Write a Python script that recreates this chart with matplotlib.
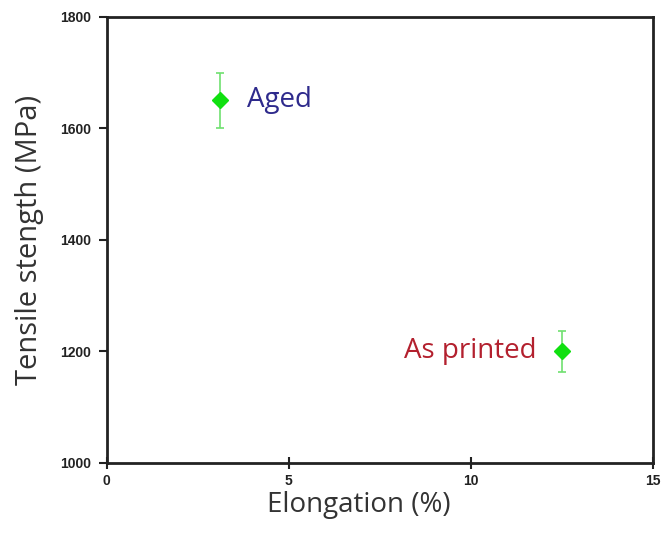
import matplotlib
matplotlib.use("Agg")
import matplotlib.pyplot as plt

# data
labels = ["Aged", "As printed"]
elongation = [3.1, 12.5]
strength = [1650, 1200]
strength_err = [50, 36]
label_colors = ["#2e2a8c", "#b3202e"]

xticks = [0, 5, 10, 15]
yticks = [1000, 1200, 1400, 1600, 1800]

fig = plt.figure(figsize=(6.63, 5.35), dpi=100)
ax = fig.add_axes([0.161, 0.1346, 0.824, 0.834])

ax.errorbar(elongation, strength, yerr=strength_err, fmt="none", ecolor="#6fe06f",
            elinewidth=1.2, capsize=3, capthick=1.2, zorder=2)
ax.plot(elongation, strength, linestyle="", marker="D", markersize=8,
        color="#10e010", markeredgecolor="#10e010", zorder=3)

ax.text(elongation[0] + 0.75, strength[0], labels[0], color=label_colors[0],
        fontsize=20, family="Open Sans", va="center", ha="left")
ax.text(elongation[1] - 0.7, strength[1], labels[1], color=label_colors[1],
        fontsize=20, family="Open Sans", va="center", ha="right")

ax.set_xlim(0, 15)
ax.set_ylim(1000, 1800)
ax.set_xticks(xticks)
ax.set_yticks(yticks)
ax.tick_params(axis="both", labelsize=10, colors="#222222", width=1.5, length=6)
ax.tick_params(axis="y", pad=5)
ax.tick_params(axis="x", direction="inout", length=8, pad=4)
for lab in ax.get_xticklabels() + ax.get_yticklabels():
    lab.set_fontweight("bold")
    lab.set_family("Liberation Sans")

ax.set_xlabel("Elongation (%)", fontsize=20, family="Open Sans", color="#333333", labelpad=2)
ax.xaxis.label.set_x(0.462)
ax.set_ylabel("Tensile stength (MPa)", fontsize=21, family="Open Sans", color="#333333", labelpad=12)

for sp in ax.spines.values():
    sp.set_linewidth(2)
    sp.set_color("#222222")

fig.savefig("out.png", dpi=100)
